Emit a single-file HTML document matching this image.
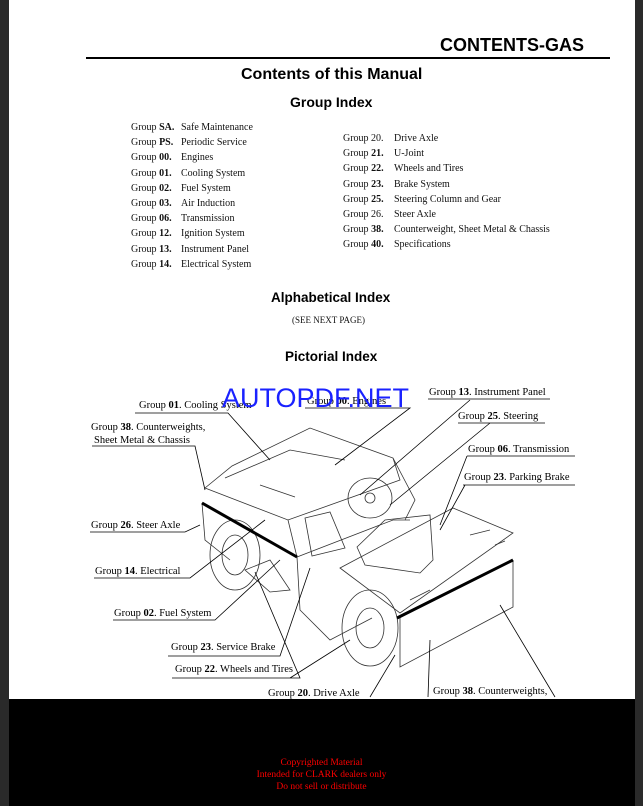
<!DOCTYPE html><html><head><style>
body{margin:0;width:643px;height:806px;background:#2a2a2a;position:relative;overflow:hidden;font-family:"Liberation Serif",serif}
#pg{position:absolute;left:9px;top:0;width:626px;height:699px;background:#fff}
.t{position:absolute;white-space:nowrap;font-size:10px;color:#111}
.h{position:absolute;font-family:"Liberation Sans",sans-serif;font-weight:bold;white-space:nowrap;color:#000}
.r{position:absolute;left:0;width:643px;text-align:center;color:#f00;font-size:9.5px}
.g{position:absolute;font-size:10.5px;white-space:nowrap}
</style></head><body>
<div id="pg"></div>
<div class="h" style="left:440px;top:35px;font-size:18px">CONTENTS-GAS</div>
<div style="position:absolute;left:86px;top:57px;width:524px;height:2px;background:#000"></div>
<div class="h" style="left:241px;top:66px;font-size:16px">Contents of this Manual</div>
<div class="h" style="left:290px;top:94px;font-size:14px">Group Index</div>
<div class="t" style="left:131px;top:120px;line-height:15.2px">Group <b>SA.</b><br>Group <b>PS.</b><br>Group <b>00.</b><br>Group <b>01.</b><br>Group <b>02.</b><br>Group <b>03.</b><br>Group <b>06.</b><br>Group <b>12.</b><br>Group <b>13.</b><br>Group <b>14.</b></div>
<div class="t" style="left:181px;top:120px;line-height:15.2px">Safe Maintenance<br>Periodic Service<br>Engines<br>Cooling System<br>Fuel System<br>Air Induction<br>Transmission<br>Ignition System<br>Instrument Panel<br>Electrical System</div>
<div class="t" style="left:343px;top:131px;line-height:15.2px">Group 20.<br>Group <b>21.</b><br>Group <b>22.</b><br>Group <b>23.</b><br>Group <b>25.</b><br>Group 26.<br>Group <b>38.</b><br>Group <b>40.</b></div>
<div class="t" style="left:394px;top:131px;line-height:15.2px">Drive Axle<br>U-Joint<br>Wheels and Tires<br>Brake System<br>Steering Column and Gear<br>Steer Axle<br>Counterweight, Sheet Metal &amp; Chassis<br>Specifications</div>
<div class="h" style="left:271px;top:290px;font-size:13.5px">Alphabetical Index</div>
<div class="t" style="left:292px;top:315px;font-size:9px">(SEE NEXT PAGE)</div>
<div class="h" style="left:285px;top:349px;font-size:13.5px">Pictorial Index</div>
<svg style="position:absolute;left:0;top:0" width="643" height="806" fill="none" stroke="#333" stroke-width="0.8">
<path d="M205 488 L232 466 L310 428 L393 458 L400 480 L288 520 Z"/>
<path d="M225 478 L290 450 L345 460 M260 485 L295 497"/>
<path d="M202 503 L205 540 L230 560 M288 520 L297 557 L300 610 L330 640 L372 618 M393 458 L415 500 L405 520"/>
<path d="M297 557 L393 520 L410 520"/>
<path d="M305 518 L330 512 L345 548 L312 556 Z"/>
<path d="M340 568 L453 508 L513 533 L400 613 Z M400 618 L400 667 L513 607 L513 560"/>
<path d="M245 570 L270 560 L290 590 L270 592 Z"/>
<ellipse cx="235" cy="555" rx="25" ry="35"/><ellipse cx="235" cy="555" rx="13" ry="20"/>
<ellipse cx="370" cy="628" rx="28" ry="38"/><ellipse cx="370" cy="628" rx="14" ry="20"/>
<ellipse cx="370" cy="498" rx="22" ry="20"/><circle cx="370" cy="498" r="5"/>
<path d="M357 547 L385 520 L430 515 L433 560 L420 573 L365 565 Z"/>
<path d="M470 535 L490 530 M495 545 L505 541 M410 600 L430 590"/>
<path d="M202 503 L297 557" stroke="#000" stroke-width="3"/><path d="M397 618 L513 560" stroke="#000" stroke-width="3"/>
<path d="M135 413 L228 413 L270 460 M92 446 L195 446 L205 490 M90 532 L185 532 L200 525 M94 578 L190 578 L265 520 M113 620 L215 620 L280 560 M168 656 L280 656 L310 568 M172 678 L300 678 L255 572 M290 678 L350 640 M428 399 L550 399 M470 400 L360 495 M458 423 L545 423 M490 423 L390 505 M467 456 L575 456 M467 456 L440 525 M463 485 L575 485 M465 485 L440 530 M305 408 L410 408 L335 465 M500 605 L555 697 M430 640 L428 697 M370 697 L395 655" stroke="#000"/>
</svg>
<div class="g" style="left:139px;top:400px">Group <b>01</b>. Cooling System</div>
<div class="g" style="left:307px;top:396px">Group <b>00</b>. Engines</div>
<div class="h" style="left:222px;top:383px;font-size:27px;color:#1a22ff;font-weight:normal">AUTOPDF.NET</div>
<div class="g" style="left:429px;top:387px">Group <b>13</b>. Instrument Panel</div>
<div class="g" style="left:458px;top:411px">Group <b>25</b>. Steering</div>
<div class="g" style="left:91px;top:422px">Group <b>38</b>. Counterweights,</div>
<div class="g" style="left:94px;top:435px">Sheet Metal &amp; Chassis</div>
<div class="g" style="left:468px;top:444px">Group <b>06</b>. Transmission</div>
<div class="g" style="left:464px;top:472px">Group <b>23</b>. Parking Brake</div>
<div class="g" style="left:91px;top:520px">Group <b>26</b>. Steer Axle</div>
<div class="g" style="left:95px;top:566px">Group <b>14</b>. Electrical</div>
<div class="g" style="left:114px;top:608px">Group <b>02</b>. Fuel System</div>
<div class="g" style="left:171px;top:642px">Group <b>23</b>. Service Brake</div>
<div class="g" style="left:175px;top:664px">Group <b>22</b>. Wheels and Tires</div>
<div class="g" style="left:268px;top:688px">Group <b>20</b>. Drive Axle</div>
<div class="g" style="left:433px;top:686px">Group <b>38</b>. Counterweights,</div>
<div style="position:absolute;left:9px;top:699px;width:626px;height:107px;background:#000"></div>
<div class="r" style="top:758px">Copyrighted Material</div>
<div class="r" style="top:770px">Intended for CLARK dealers only</div>
<div class="r" style="top:782px">Do not sell or distribute</div>
</body></html>
